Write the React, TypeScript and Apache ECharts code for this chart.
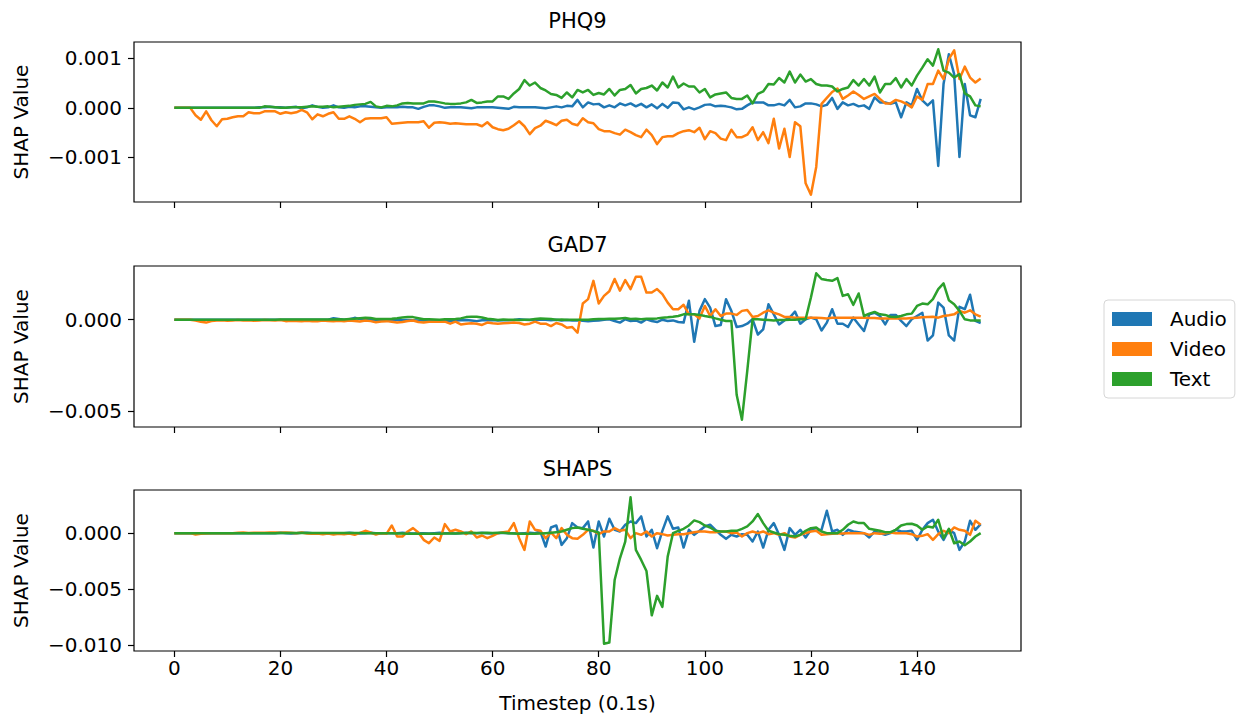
import React, { useEffect, useRef } from "react";
import * as echarts from "echarts";

// ---------------- data ----------------
const TIMESTEPS: number[] = Array.from({ length: 153 }, (_, i) => i);
const X_TICKS = [0, 20, 40, 60, 80, 100, 120, 140];
const PHQ9_Y_TICKS = [-0.001, 0, 0.001];
const GAD7_Y_TICKS = [-0.005, 0];
const SHAPS_Y_TICKS = [-0.01, -0.005, 0];
const MODALITIES = ["Audio", "Video", "Text"];
const PANEL_TITLES = ["PHQ9", "GAD7", "SHAPS"];

const PHQ9_AUDIO = [
  0,0,0,0,0,0,0,0,0,0,
  0,0,0,0,0,0,0.1e-4,0.1e-4,0.2e-4,0.1e-4,
  0.1e-4,0,0.1e-4,0.2e-4,-0.1e-4,0.1e-4,0.5e-4,0.2e-4,0,0.1e-4,
  0.5e-4,0.1e-4,0,0.2e-4,0.1e-4,0.3e-4,0.3e-4,0.2e-4,0.1e-4,0,
  0.1e-4,0.1e-4,0.1e-4,0.2e-4,0.1e-4,0.1e-4,-0.2e-4,0.2e-4,0.5e-4,0.5e-4,
  0.3e-4,0,0.1e-4,0.1e-4,0.1e-4,0,-0.1e-4,0.1e-4,0.1e-4,0.1e-4,
  0.1e-4,0,-0.1e-4,-0.2e-4,0.2e-4,0.1e-4,0.1e-4,0.1e-4,0.1e-4,0,
  -0.1e-4,0.1e-4,0.3e-4,0.1e-4,0.4e-4,0.3e-4,1.6e-4,0.1e-4,1.1e-4,0.7e-4,
  0.8e-4,0.1e-4,0.5e-4,0.1e-4,0.9e-4,0.5e-4,0.9e-4,0.3e-4,0.8e-4,0.1e-4,
  0.7e-4,-0.1e-4,0.8e-4,0,1.1e-4,1.0e-4,-0.3e-4,0.1e-4,-0.3e-4,0.1e-4,
  0.6e-4,0.7e-4,0.3e-4,0.4e-4,0.3e-4,0.1e-4,-0.3e-4,-0.2e-4,0.5e-4,1.1e-4,
  1.1e-4,1.1e-4,0.5e-4,0.5e-4,0.8e-4,0.5e-4,1.6e-4,0.1e-4,0.3e-4,0.9e-4,
  0.9e-4,0.7e-4,0.3e-4,0.6e-4,2.0e-4,-0.2e-4,1.1e-4,0.5e-4,0.8e-4,0.3e-4,
  0.5e-4,-0.2e-4,2.1e-4,1.1e-4,1.1e-4,0.8e-4,1.1e-4,-1.9e-4,1.1e-4,0.5e-4,
  3.8e-4,1.5e-4,0.5e-4,1.5e-4,-11.7e-4,4.8e-4,10.8e-4,6.8e-4,-9.9e-4,4.8e-4,
  -1.5e-4,-1.9e-4,1.8e-4,
];
const PHQ9_VIDEO = [
  0,0,0,0,-1.5e-4,-2.4e-4,-0.7e-4,-2.5e-4,-3.7e-4,-2.3e-4,
  -2.2e-4,-1.9e-4,-1.7e-4,-1.7e-4,-0.9e-4,-1.1e-4,-1.1e-4,-0.7e-4,-0.7e-4,-0.7e-4,
  -1.2e-4,-0.9e-4,-1.1e-4,-0.9e-4,-0.4e-4,-0.9e-4,-2.3e-4,-1.3e-4,-1.7e-4,-1.2e-4,
  -0.9e-4,-2.2e-4,-2.2e-4,-1.7e-4,-2.2e-4,-2.9e-4,-2.2e-4,-2.1e-4,-2.1e-4,-2.1e-4,
  -1.9e-4,-3.2e-4,-3.1e-4,-3.0e-4,-2.9e-4,-2.9e-4,-2.9e-4,-2.7e-4,-4.0e-4,-3.0e-4,
  -2.9e-4,-3.0e-4,-3.2e-4,-3.1e-4,-3.2e-4,-3.3e-4,-3.3e-4,-3.3e-4,-3.7e-4,-2.9e-4,
  -3.9e-4,-4.3e-4,-4.5e-4,-4.2e-4,-3.5e-4,-2.7e-4,-3.7e-4,-5.3e-4,-4.1e-4,-3.6e-4,
  -2.6e-4,-3.0e-4,-3.5e-4,-2.6e-4,-2.4e-4,-3.2e-4,-3.5e-4,-2.1e-4,-2.9e-4,-3.1e-4,
  -4.3e-4,-4.7e-4,-4.7e-4,-5.1e-4,-5.4e-4,-4.4e-4,-4.9e-4,-5.5e-4,-5.9e-4,-4.4e-4,
  -5.5e-4,-7.3e-4,-5.9e-4,-5.7e-4,-5.7e-4,-5.1e-4,-4.7e-4,-4.5e-4,-4.9e-4,-4.0e-4,
  -6.3e-4,-4.7e-4,-5.1e-4,-6.2e-4,-6.5e-4,-4.4e-4,-5.9e-4,-5.9e-4,-5.4e-4,-3.9e-4,
  -6.5e-4,-4.9e-4,-7.1e-4,-2.2e-4,-8.2e-4,-4.2e-4,-9.9e-4,-2.9e-4,-3.7e-4,-15.2e-4,
  -17.5e-4,-11.9e-4,0.8e-4,2.0e-4,3.2e-4,3.9e-4,1.8e-4,2.5e-4,3.3e-4,2.6e-4,
  1.8e-4,2.3e-4,2.8e-4,1.8e-4,0.9e-4,0.9e-4,1.6e-4,1.3e-4,0.8e-4,0.1e-4,
  2.3e-4,1.6e-4,4.8e-4,4.8e-4,7.5e-4,5.8e-4,9.8e-4,11.6e-4,5.8e-4,8.3e-4,
  6.1e-4,5.1e-4,5.9e-4,
];
const PHQ9_TEXT = [
  0,0,0,0,0,0,0,0,0,0,
  0,0,0,0,0,0,0,0.3e-4,0.2e-4,0.1e-4,
  0,0,0.1e-4,0.1e-4,0.1e-4,0.2e-4,0.3e-4,0.2e-4,0.2e-4,0.3e-4,
  0.1e-4,0.2e-4,0.3e-4,0.4e-4,0.6e-4,0.7e-4,0.8e-4,1.2e-4,0.3e-4,0.1e-4,
  0.4e-4,0.3e-4,0.5e-4,0.9e-4,1.0e-4,0.9e-4,0.9e-4,0.9e-4,1.3e-4,1.3e-4,
  1.1e-4,0.9e-4,0.8e-4,0.8e-4,0.9e-4,1.1e-4,1.6e-4,1.0e-4,1.1e-4,1.3e-4,
  1.3e-4,2.3e-4,2.3e-4,1.8e-4,2.9e-4,3.8e-4,5.6e-4,4.5e-4,5.1e-4,4.0e-4,
  3.5e-4,2.8e-4,2.6e-4,2.0e-4,3.1e-4,2.1e-4,3.6e-4,3.1e-4,3.6e-4,2.6e-4,
  3.0e-4,2.7e-4,3.8e-4,2.5e-4,3.6e-4,3.8e-4,4.6e-4,2.9e-4,3.8e-4,4.0e-4,
  4.5e-4,3.5e-4,5.1e-4,4.1e-4,6.3e-4,4.1e-4,4.9e-4,4.3e-4,4.3e-4,3.1e-4,
  3.8e-4,2.1e-4,2.7e-4,2.9e-4,3.1e-4,2.0e-4,1.8e-4,1.8e-4,2.5e-4,0.9e-4,
  2.8e-4,3.3e-4,4.8e-4,4.7e-4,6.0e-4,5.1e-4,7.3e-4,5.1e-4,6.7e-4,5.3e-4,
  5.8e-4,4.8e-4,4.5e-4,4.5e-4,4.3e-4,3.3e-4,3.8e-4,4.1e-4,5.6e-4,4.5e-4,
  5.8e-4,4.5e-4,6.3e-4,3.1e-4,4.8e-4,4.8e-4,6.0e-4,4.1e-4,5.8e-4,4.5e-4,
  6.5e-4,8.1e-4,9.8e-4,8.5e-4,11.8e-4,7.5e-4,7.1e-4,6.1e-4,6.8e-4,2.9e-4,
  2.3e-4,0.5e-4,0.3e-4,
];

const GAD7_AUDIO = [
  0,0,0,0,0,0,0,0,0,0,
  0,0,0,0,0,0,0,0,0,0,
  0,0,0,0,0,0,0,0,0,0,
  0.8e-4,0.4e-4,0,0.2e-4,1.0e-4,0.3e-4,0,-0.2e-4,0,-0.1e-4,
  -0.2e-4,-0.2e-4,-0.2e-4,-0.3e-4,-0.2e-4,-0.3e-4,-0.4e-4,-0.3e-4,-0.6e-4,-0.5e-4,
  -0.6e-4,-0.5e-4,-0.7e-4,-0.5e-4,-0.3e-4,-0.2e-4,-0.4e-4,-0.8e-4,-0.3e-4,-0.3e-4,
  -0.2e-4,-0.4e-4,-0.3e-4,-0.3e-4,-0.2e-4,0.2e-4,0,-0.2e-4,0,-0.1e-4,
  0,-0.3e-4,-0.1e-4,-0.4e-4,-0.2e-4,-0.4e-4,-0.3e-4,-0.6e-4,-0.8e-4,-0.6e-4,
  -0.4e-4,0,0.2e-4,-0.7e-4,-1.6e-4,0.2e-4,-0.7e-4,-0.4e-4,-1.6e-4,0.2e-4,
  -0.7e-4,-1.3e-4,0,-0.7e-4,-0.4e-4,-1.3e-4,-1.6e-4,10.3e-4,-12.1e-4,4.8e-4,
  11.2e-4,6.6e-4,-3.5e-4,-2.9e-4,11.2e-4,4.8e-4,-4.0e-4,-3.5e-4,-2.2e-4,0.2e-4,
  -8.1e-4,-5.3e-4,8.4e-4,2.9e-4,-2.6e-4,-0.4e-4,1.1e-4,4.4e-4,-2.2e-4,0.2e-4,
  1.1e-4,0.2e-4,-5.9e-4,-1.6e-4,5.7e-4,-2.2e-4,-2.2e-4,-4.0e-4,1.1e-4,-2.6e-4,
  -6.2e-4,2.9e-4,3.8e-4,2.0e-4,-2.6e-4,2.6e-4,2.6e-4,-0.7e-4,-3.5e-4,0.2e-4,
  2.0e-4,3.8e-4,-11.4e-4,-8.6e-4,9.3e-4,6.6e-4,-8.6e-4,-11.4e-4,7.0e-4,5.7e-4,
  13.6e-4,-0.7e-4,-1.8e-4,
];
const GAD7_VIDEO = [
  0,0,0,0,-0.5e-4,-1.2e-4,-1.6e-4,-0.8e-4,-0.5e-4,-0.3e-4,
  -0.6e-4,-0.4e-4,-0.2e-4,-0.5e-4,-0.3e-4,-0.6e-4,-0.4e-4,-0.2e-4,-0.3e-4,-0.5e-4,
  -0.2e-4,-0.8e-4,-0.6e-4,-0.7e-4,-0.9e-4,-0.6e-4,-0.8e-4,-0.9e-4,-0.5e-4,-0.7e-4,
  -0.8e-4,-0.6e-4,-0.9e-4,-0.5e-4,-0.7e-4,-1.0e-4,-0.5e-4,-0.8e-4,-1.4e-4,-1.0e-4,
  -0.8e-4,-1.1e-4,-1.6e-4,-1.3e-4,-0.7e-4,-0.5e-4,-1.3e-4,-1.6e-4,-1.1e-4,-1.1e-4,
  -1.1e-4,-1.1e-4,-2.2e-4,-1.1e-4,-2.6e-4,-2.2e-4,-2.0e-4,-2.2e-4,-2.9e-4,-1.6e-4,
  -2.0e-4,-2.2e-4,-2.0e-4,-1.8e-4,-1.6e-4,-1.8e-4,-2.6e-4,-2.2e-4,-1.1e-4,-2.2e-4,
  -2.2e-4,-3.5e-4,-1.8e-4,-2.6e-4,-4.4e-4,-4.0e-4,-7.1e-4,8.8e-4,11.2e-4,21.2e-4,
  8.8e-4,13.0e-4,15.5e-4,22.2e-4,15.8e-4,21.6e-4,16.7e-4,23.4e-4,23.4e-4,14.8e-4,
  14.8e-4,16.7e-4,13.9e-4,9.3e-4,5.7e-4,5.7e-4,8.1e-4,2.9e-4,2.9e-4,0.7e-4,
  7.5e-4,2.0e-4,5.7e-4,2.0e-4,3.3e-4,3.3e-4,2.6e-4,4.8e-4,5.3e-4,1.5e-4,
  2.0e-4,3.8e-4,5.1e-4,3.8e-4,2.9e-4,1.5e-4,1.5e-4,1.1e-4,1.1e-4,1.1e-4,
  1.1e-4,1.1e-4,0.9e-4,0.7e-4,1.1e-4,1.1e-4,1.1e-4,1.1e-4,1.1e-4,1.1e-4,
  1.1e-4,0.9e-4,0.9e-4,0.7e-4,0.7e-4,0.7e-4,0.7e-4,0.7e-4,0.7e-4,0.9e-4,
  1.1e-4,1.3e-4,1.5e-4,1.6e-4,1.1e-4,2.0e-4,2.4e-4,2.9e-4,4.8e-4,3.8e-4,
  5.1e-4,2.9e-4,1.6e-4,
];
const GAD7_TEXT = [
  0,0,0,0,0,0,0,0,0,0,
  0,0,0,0,0,0,0,0,0,0,
  0.1e-4,0.1e-4,0.1e-4,0.1e-4,0.1e-4,0.1e-4,0.1e-4,0.1e-4,0.1e-4,0.1e-4,
  0.1e-4,0.2e-4,0.1e-4,0.3e-4,0.5e-4,0.8e-4,1.0e-4,0.9e-4,0.4e-4,0.3e-4,
  0.3e-4,0.5e-4,0.8e-4,1.2e-4,1.5e-4,1.4e-4,0.8e-4,0.2e-4,0.2e-4,0.1e-4,
  0,0.2e-4,0.2e-4,0.4e-4,0.7e-4,1.4e-4,1.6e-4,1.6e-4,1.2e-4,0.5e-4,
  0.2e-4,-0.2e-4,0.1e-4,0,-0.1e-4,-0.2e-4,0,0,0.3e-4,0.6e-4,
  0.5e-4,0.3e-4,0,0.1e-4,0,0,0,0,0,0.2e-4,
  0.3e-4,0.4e-4,0.5e-4,0.5e-4,0.7e-4,0.9e-4,0.4e-4,0.5e-4,0.2e-4,0.5e-4,
  0.5e-4,0.7e-4,1.1e-4,1.3e-4,1.6e-4,2.0e-4,2.9e-4,2.9e-4,2.9e-4,2.6e-4,
  2.0e-4,1.5e-4,0.7e-4,0,-0.7e-4,-0.7e-4,-41e-4,-54.6e-4,-28e-4,0.2e-4,
  0.2e-4,0,-0.2e-4,-0.4e-4,-0.2e-4,-0.2e-4,0,0,0.2e-4,0.2e-4,
  12.1e-4,25.3e-4,22.2e-4,21.6e-4,21.2e-4,22.7e-4,13.0e-4,13.9e-4,8.1e-4,14.3e-4,
  2.0e-4,3.3e-4,4.2e-4,2.9e-4,2.6e-4,1.6e-4,1.5e-4,2.0e-4,2.9e-4,3.3e-4,
  7.5e-4,8.8e-4,8.4e-4,11.2e-4,16.7e-4,19.8e-4,10.6e-4,8.4e-4,4.8e-4,0.2e-4,
  -0.4e-4,-0.4e-4,-0.4e-4,
];

const SHAPS_AUDIO = [
  0,0,0,0,0,0,0,0,0,0,
  0,0,0,0,0,0,0,0,0,0,
  0.3e-4,0,-0.3e-4,0,0.3e-4,0.3e-4,0,-0.3e-4,-0.6e-4,-0.3e-4,
  0,-0.3e-4,0,0.3e-4,0,-0.3e-4,0,0.3e-4,0,-0.3e-4,
  0,0,0,0.3e-4,0,-0.3e-4,0,0,-0.3e-4,0,
  0.3e-4,0,0,-0.3e-4,0,0.3e-4,0,0,0.3e-4,0,
  -0.3e-4,0,0.3e-4,0,0,-0.3e-4,0,0.3e-4,0,1.5e-4,
  -12.0e-4,5.1e-4,6.9e-4,-10.5e-4,-4.5e-4,9.0e-4,5.1e-4,4.5e-4,10.5e-4,-12.9e-4,
  10.5e-4,-3.0e-4,12.9e-4,3.0e-4,1.5e-4,7.5e-4,10.5e-4,9.0e-4,15.0e-4,-3.0e-4,
  3.0e-4,-13.5e-4,2.1e-4,15.0e-4,3.9e-4,5.1e-4,-12.9e-4,3.0e-4,-1.5e-4,2.1e-4,
  6.0e-4,7.5e-4,3.0e-4,-1.5e-4,-5.1e-4,-1.5e-4,-3.0e-4,-0.9e-4,-1.5e-4,-7.5e-4,
  1.5e-4,-12.9e-4,3.0e-4,9.0e-4,-1.5e-4,-15.0e-4,4.5e-4,-1.5e-4,3.0e-4,-3.9e-4,
  3.0e-4,2.1e-4,3.0e-4,20.1e-4,1.5e-4,3.0e-4,-1.5e-4,3.0e-4,1.5e-4,0.9e-4,
  0,-3.9e-4,1.5e-4,0,-1.5e-4,0,3.0e-4,1.5e-4,1.5e-4,2.1e-4,
  -6.0e-4,3.0e-4,9.0e-4,12.0e-4,1.5e-4,-6.0e-4,3.0e-4,0,-15.0e-4,-7.5e-4,
  11.1e-4,3.0e-4,8.1e-4,
];
const SHAPS_VIDEO = [
  0,0,0,0,-1.2e-4,-0.6e-4,-0.3e-4,0,0,0,
  0,0,0.3e-4,0.5e-4,0.2e-4,0.3e-4,0.4e-4,0.3e-4,0.5e-4,0.6e-4,
  0.3e-4,0.5e-4,0.4e-4,0,0.6e-4,-0.3e-4,-0.6e-4,-0.3e-4,-0.9e-4,-0.3e-4,
  -1.2e-4,-0.6e-4,-0.9e-4,-0.3e-4,-1.5e-4,0.3e-4,2.1e-4,0.6e-4,-1.2e-4,0,
  -0.6e-4,6.9e-4,-3.0e-4,-3.0e-4,1.5e-4,4.5e-4,0.6e-4,-6.0e-4,-9.0e-4,-3.9e-4,
  -6.9e-4,8.1e-4,1.5e-4,3.0e-4,1.5e-4,-0.9e-4,1.5e-4,-3.9e-4,-2.1e-4,-4.5e-4,
  -2.4e-4,0,0.9e-4,1.5e-4,9.0e-4,-4.5e-4,-15.0e-4,10.5e-4,3.0e-4,2.1e-4,
  -4.5e-4,0.6e-4,-4.5e-4,4.5e-4,-1.5e-4,-4.5e-4,-5.1e-4,-1.5e-4,3.0e-4,2.1e-4,
  -0.9e-4,1.5e-4,1.5e-4,4.5e-4,2.1e-4,3.0e-4,-4.5e-4,0,-1.5e-4,1.5e-4,
  -3.0e-4,0,-0.9e-4,-2.1e-4,-1.5e-4,-0.9e-4,-0.9e-4,0,0.9e-4,1.5e-4,
  1.5e-4,0.9e-4,0.9e-4,1.5e-4,1.5e-4,0,0.6e-4,-3.0e-4,0,1.5e-4,
  0,1.5e-4,-0.9e-4,0,-1.5e-4,0,-3.0e-4,-3.9e-4,-1.5e-4,0,
  1.5e-4,2.1e-4,-1.5e-4,-0.9e-4,-0.6e-4,-0.3e-4,-0.3e-4,0,0,0,
  0,-1.5e-4,0,-0.6e-4,0,0.6e-4,0,0,0,-0.9e-4,
  -3.0e-4,-2.4e-4,-0.9e-4,-6.0e-4,-0.9e-4,2.1e-4,0,5.1e-4,3.0e-4,2.1e-4,
  -1.5e-4,11.1e-4,7.5e-4,
];
const SHAPS_TEXT = [
  0,0,0,0,0,0,0,0,0,0,
  0,0,0,0,0,0,0,0,0,0,
  0.2e-4,0.2e-4,0.2e-4,0.2e-4,0.2e-4,0.2e-4,0.2e-4,0.2e-4,0.2e-4,0.2e-4,
  0.2e-4,0.2e-4,0.2e-4,0.2e-4,0.2e-4,0.2e-4,0,0,0,0,
  0,0,-0.2e-4,-0.3e-4,-0.5e-4,-0.6e-4,-0.6e-4,-0.6e-4,-0.6e-4,-0.6e-4,
  -0.5e-4,-0.4e-4,-0.3e-4,-0.2e-4,-0.1e-4,0.2e-4,0.3e-4,0.2e-4,0.2e-4,0.3e-4,
  0.2e-4,0.3e-4,0.3e-4,0,-0.3e-4,-0.6e-4,-0.6e-4,-0.6e-4,-0.6e-4,-0.3e-4,
  0,0.3e-4,0.9e-4,1.5e-4,3.0e-4,4.5e-4,5.1e-4,3.9e-4,3.0e-4,1.8e-4,
  0.6e-4,-99e-4,-98e-4,-42e-4,-22.5e-4,-7.5e-4,32.1e-4,-15.0e-4,-24.0e-4,-33.9e-4,
  -73.6e-4,-56.2e-4,-66.1e-4,-21.0e-4,0,2.1e-4,3.9e-4,6.9e-4,11.4e-4,9.9e-4,
  6.9e-4,5.1e-4,2.1e-4,1.5e-4,1.5e-4,2.1e-4,2.1e-4,3.9e-4,6.0e-4,10.5e-4,
  17.1e-4,9.0e-4,2.1e-4,0.6e-4,-0.9e-4,-1.5e-4,-2.4e-4,-3.0e-4,-1.5e-4,2.1e-4,
  4.5e-4,5.1e-4,1.5e-4,0,0,0,3.0e-4,7.5e-4,10.5e-4,9.0e-4,
  9.0e-4,3.9e-4,3.0e-4,2.1e-4,0.9e-4,0.9e-4,3.0e-4,6.9e-4,8.1e-4,8.4e-4,
  6.9e-4,3.0e-4,6.0e-4,5.1e-4,12.0e-4,-4.5e-4,3.9e-4,-9.0e-4,-7.5e-4,-10.8e-4,
  -7.5e-4,-3.0e-4,0,
];

// ---------------- styling ----------------
const COLORS = ["#1f77b4", "#ff7f0e", "#2ca02c"];
const FONT = '"DejaVu Sans", Verdana, sans-serif';
const TICK_FS = 20;
const TITLE_FS = 21;

function autoRange(values: number[], frac = 0.05): [number, number] {
  let lo = Infinity;
  let hi = -Infinity;
  for (const v of values) {
    if (v < lo) lo = v;
    if (v > hi) hi = v;
  }
  const m = (hi - lo) * frac;
  return [lo - m, hi + m];
}

const fmtY = (v: number) => (v < -1e-12 ? "\u2212" : "") + Math.abs(v).toFixed(3);

export default function App() {
  const ref = useRef<HTMLDivElement>(null);

  useEffect(() => {
    if (!ref.current) return;
    const chart = echarts.init(ref.current, undefined, { renderer: "svg" });

    const panels = [
      { title: PANEL_TITLES[0], data: [PHQ9_AUDIO, PHQ9_VIDEO, PHQ9_TEXT], ticks: PHQ9_Y_TICKS, top: 42, height: 160 },
      { title: PANEL_TITLES[1], data: [GAD7_AUDIO, GAD7_VIDEO, GAD7_TEXT], ticks: GAD7_Y_TICKS, top: 266, height: 161 },
      { title: PANEL_TITLES[2], data: [SHAPS_AUDIO, SHAPS_VIDEO, SHAPS_TEXT], ticks: SHAPS_Y_TICKS, top: 490, height: 161 },
    ];
    const LEFT = 134;
    const WIDTH = 887;
    const [xMin, xMax] = autoRange(TIMESTEPS);

    const grid = panels.map((p) => ({
      left: LEFT,
      top: p.top,
      width: WIDTH,
      height: p.height,
      show: true,
      borderColor: "#000",
      borderWidth: 1.2,
      backgroundColor: "transparent",
    }));

    const xAxis = panels.map((_, pi) => ({
      type: "value",
      gridIndex: pi,
      min: xMin,
      max: xMax,
      axisLine: { show: false, onZero: false },
      axisTick: {
        show: true,
        inside: false,
        length: 6,
        lineStyle: { color: "#000", width: 1.2 },
        customValues: X_TICKS,
      },
      axisLabel: {
        show: pi === 2,
        customValues: X_TICKS,
        color: "#000",
        fontFamily: FONT,
        fontSize: TICK_FS,
        margin: 7,
      },
      splitLine: { show: false },
      name: pi === 2 ? "Timestep (0.1s)" : "",
      nameLocation: "middle",
      nameGap: 42,
      nameTextStyle: { color: "#000", fontFamily: FONT, fontSize: TICK_FS },
    }));

    const yAxis = panels.map((p, pi) => {
      const [lo, hi] = autoRange(p.data.flat());
      return {
        type: "value",
        gridIndex: pi,
        min: lo,
        max: hi,
        axisLine: { show: false, onZero: false },
        axisTick: {
          show: true,
          inside: false,
          length: 6,
          lineStyle: { color: "#000", width: 1.2 },
          customValues: p.ticks,
        },
        axisLabel: {
          customValues: p.ticks,
          formatter: fmtY,
          color: "#000",
          fontFamily: FONT,
          fontSize: TICK_FS,
          margin: 12,
        },
        splitLine: { show: false },
        name: "SHAP Value",
        nameLocation: "middle",
        nameGap: 103,
        nameTextStyle: { color: "#000", fontFamily: FONT, fontSize: TICK_FS },
      };
    });

    const series: any[] = [];
    panels.forEach((p, pi) => {
      p.data.forEach((arr, mi) => {
        series.push({
          type: "line",
          name: MODALITIES[mi],
          xAxisIndex: pi,
          yAxisIndex: pi,
          data: TIMESTEPS.map((t, i) => [t, arr[i]]),
          showSymbol: false,
          symbol: "none",
          silent: true,
          lineStyle: { width: 2.5, color: COLORS[mi], join: "round" },
          itemStyle: { color: COLORS[mi] },
          emphasis: { disabled: true },
        });
      });
    });

    const graphic = panels.map((p) => ({
      type: "text",
      x: LEFT + WIDTH / 2,
      y: p.top - 11,
      style: {
        text: p.title,
        font: `${TITLE_FS}px ${FONT}`,
        fill: "#000",
        textAlign: "center",
        textVerticalAlign: "bottom",
      },
    }));

    chart.setOption({
      animation: false,
      backgroundColor: "#fff",
      grid,
      xAxis,
      yAxis,
      series,
      graphic,
      legend: {
        data: MODALITIES,
        orient: "vertical",
        left: 1104,
        top: 300,
        icon: "rect",
        itemWidth: 40,
        itemHeight: 14,
        itemGap: 8,
        padding: [8, 8, 8, 8],
        borderColor: "#d6d6d6",
        borderWidth: 1,
        borderRadius: 4,
        backgroundColor: "#fff",
        selectedMode: false,
        textStyle: {
          color: "#000",
          fontFamily: FONT,
          fontSize: TICK_FS,
          lineHeight: 22,
          padding: [0, 0, 0, 13],
        },
      },
    });

    return () => chart.dispose();
  }, []);

  return (
    <div
      ref={ref}
      style={{ position: "absolute", left: 0, top: 0, width: 1238, height: 718, background: "#fff" }}
    />
  );
}
